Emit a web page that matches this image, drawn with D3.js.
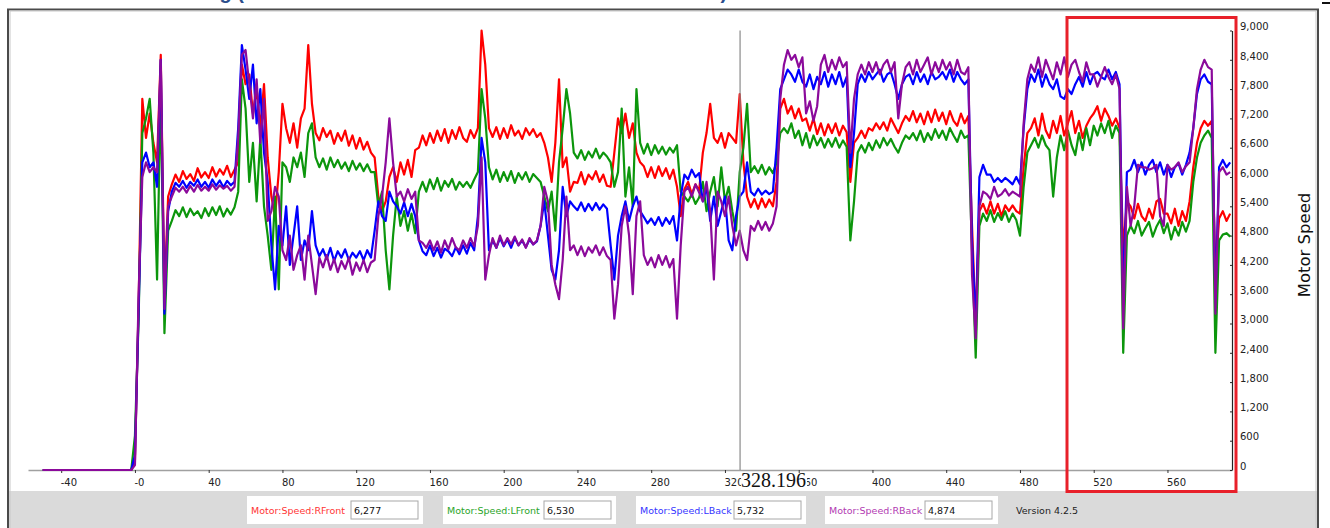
<!DOCTYPE html>
<html>
<head>
<meta charset="utf-8">
<script src="https://cdn.jsdelivr.net/npm/d3@7"></script>
<style>
  body { margin: 0; background: #fff; }
  svg { display: block; }
</style>
</head>
<body>
<div id="chart"></div>
<script>
// motor speed log, 4 motors

const width = 1330;
const height = 528;

// sample clock of the log
const tStart = -50;
const tStep = 2;

const rFront = [
  0,0,0,0,0,0,0,0,0,0,0,0,0,0,0,0,0,0,0,0,0,0,0,0,0,
  200,3400,7600,6800,7300,6700,6300,8500,3600,5600,
  5850,6050,5900,6120,5960,6060,5920,6180,5990,6100,
  5980,6200,6010,6160,6050,6230,6000,6150,6300,8300,
  7900,8100,7300,7800,7000,7900,6400,5600,5200,6100,
  7500,7000,6700,7100,6600,7200,7400,8700,7500,6900,
  6750,7000,6820,6950,6680,6900,6740,6950,6640,6850,
  6580,6800,6560,6720,6500,6400,5600,5300,5500,6000,
  6200,5900,6300,6050,6350,6000,6550,6600,6850,6650,
  6900,6700,6950,6740,6980,6700,6960,6780,7020,6800,
  6720,6960,6800,7000,9000,8300,7000,6820,7020,6780,
  7000,6800,7060,6850,6950,6780,7000,6860,6980,6820,
  6900,6700,6400,5900,6700,8000,6200,6400,5700,5900,
  5880,6100,5850,6050,5950,6120,5900,6050,5820,5800,
  6500,7200,6900,7300,6800,7100,6500,6300,6220,6000,
  6200,5980,6220,6020,6180,5960,6150,5800,5200,5750,
  5900,5650,5850,5720,6500,6900,7500,6800,6700,6900,
  6600,6900,6800,6700,7700,6300,5600,5380,5550,5350,
  5560,5380,5540,5400,5900,7400,7600,7300,7450,7200,
  7400,7150,7200,6950,7200,6880,7100,6850,7080,6900,
  7100,6850,7050,6920,5900,6700,6800,6950,6800,7000,
  6950,7100,6980,7120,6950,7200,7050,6900,7100,7250,
  7150,7350,7120,7300,7080,7340,7120,7380,7150,7320,
  7080,7350,7150,7050,7300,7100,7250,5000,3000,5300,
  5450,5250,5500,5250,5450,5200,5420,5300,5420,5300,
  5250,6200,6900,7000,7200,6850,7300,6950,6800,7150,
  6900,7250,6850,7100,7350,6900,7150,6800,7050,7200,
  7300,7450,7150,7400,7250,7050,7200,7000,4500,5500,
  5400,5150,5450,5200,5100,5350,5150,5500,5550,5250,
  5250,5050,5350,5000,5300,5100,5500,6200,6700,7000,
  7150,7050,7150,4000,5150,5300,5100,5250
];

const lFront = [
  0,0,0,0,0,0,0,0,0,0,0,0,0,0,0,0,0,0,0,0,0,0,0,0,0,
  700,3100,6900,7200,7600,6500,3900,7800,2800,4900,
  5100,5320,5200,5380,5180,5350,5220,5300,5160,5360,
  5200,5380,5220,5400,5190,5350,5230,5380,5700,8000,
  7400,5900,6700,5500,6800,5400,4800,4100,5600,3700,
  6300,6200,5900,6400,6200,6500,6000,6900,7100,6400,
  6200,6380,6150,6400,6200,6350,6170,6300,6120,6330,
  6150,6280,6120,6260,6100,6100,5400,5700,4500,3700,
  4800,5600,5000,5300,4900,5250,4850,5700,5900,5700,
  5950,5750,5980,5720,5920,5800,5960,5740,5900,5800,
  5900,5780,5950,6100,7800,7200,6200,5950,6150,5900,
  6100,5920,6120,5880,6080,5950,6100,5900,6060,5980,
  5900,5600,5300,5700,4900,6300,7000,7800,7300,6500,
  6380,6550,6350,6520,6400,6580,6380,6500,6420,6300,
  5800,6100,7400,5600,6200,5400,7800,6700,6480,6680,
  6450,6650,6480,6620,6460,6600,6500,6650,5700,5600,
  5500,5650,5450,5580,5900,5300,5700,6000,5400,6200,
  5500,5800,5300,4900,6100,6600,7500,6100,6220,6080,
  6250,6050,6200,6080,6300,6900,7000,6900,7100,6800,
  6950,6650,6900,6600,6850,6650,6800,6600,6780,6620,
  6800,6600,6750,6620,4700,5500,6500,6650,6500,6700,
  6550,6750,6600,6800,6650,6780,6620,6500,6700,6850,
  6780,6900,6750,6950,6720,6900,6760,6980,6800,6950,
  6760,7000,6850,6720,6950,6800,6850,4500,2300,5000,
  5250,5100,5320,5080,5260,5120,5300,5080,5250,5120,
  4800,5800,6500,6650,6800,6600,6850,6650,6550,5600,
  6400,6850,6550,6950,6650,6450,6900,6550,7000,6650,
  7050,6850,7100,6900,7150,6800,7050,6900,2400,4800,
  5000,4850,5100,4800,4950,5080,4780,4980,5120,4850,
  5050,4720,4980,4800,5080,4880,5100,5900,6400,6700,
  6850,6950,6800,2400,4700,4820,4850,4780
];

const lBack = [
  0,0,0,0,0,0,0,0,0,0,0,0,0,0,0,0,0,0,0,0,0,0,0,0,0,
  300,3300,6300,6500,6200,6300,5800,8400,3200,5300,
  5700,5880,5800,5920,5780,5900,5820,5950,5800,5900,
  5780,5950,5820,5930,5790,5920,5830,5900,7000,8700,
  8200,7600,8300,7100,7800,6500,5900,4600,3700,5000,
  4600,5400,4200,4800,5400,4300,4700,4500,5300,4600,
  4380,4520,4320,4550,4280,4480,4350,4520,4300,4450,
  4350,4480,4300,4500,4350,4900,5500,5200,5100,5700,
  5500,5400,5250,5480,5200,5450,5200,4700,4480,4400,
  4600,4380,4550,4350,4530,4480,4380,4560,4420,4600,
  4430,4650,4500,5200,6800,6300,4500,4700,4550,4750,
  4580,4720,4550,4750,4600,4700,4560,4720,4620,4680,
  5000,5500,4800,4100,3900,4500,5800,5200,5500,5400,
  5320,5480,5300,5450,5320,5470,5330,5440,5350,4600,
  3900,4800,5200,5500,5100,5400,5600,5300,5180,5050,
  5150,5020,5180,5000,5160,5040,5200,4700,5600,6050,
  5950,6150,6000,6080,5500,5800,5100,5600,5000,5300,
  5600,4700,4500,5200,5600,5700,6300,5700,5620,5760,
  5640,5720,5650,5700,6600,7800,8000,8200,8100,7950,
  8200,7950,7850,8100,7800,8050,7900,8150,7850,8100,
  7900,8150,7850,8050,6200,6900,7900,8100,7950,8150,
  8000,8100,8200,7950,8100,8150,7900,7600,7900,8050,
  8100,7900,8150,7950,8100,7900,8150,8000,8050,8150,
  8000,8200,7950,8150,8000,7900,8000,4700,2900,6000,
  6250,6050,6050,5900,5980,5900,5980,5920,5850,6000,
  5850,7000,7800,8100,7950,8200,7850,8100,7900,7800,
  8000,7650,7600,7800,7700,7900,8050,7850,8150,7900,
  8100,8150,8050,8000,8200,8000,8150,7900,3500,6100,
  6150,6350,6100,6300,6050,6250,6350,6100,6300,6050,
  6250,6000,6200,6280,6050,6250,6500,7000,7700,8000,
  8100,7950,7900,3500,6200,6350,6200,6300
];

const rBack = [
  0,0,0,0,0,0,0,0,0,0,0,0,0,0,0,0,0,0,0,0,0,0,0,0,0,
  100,3600,6000,6300,6100,6200,6100,8400,3300,5400,
  5600,5780,5700,5800,5680,5820,5700,5840,5720,5800,
  5720,5850,5740,5830,5760,5820,5720,5800,6800,8500,
  8600,7900,7200,8000,6700,7600,5100,5300,5800,5600,
  4500,4300,4800,4100,4400,4600,3900,4800,4200,3600,
  4350,4150,4400,4100,4320,4050,4280,4120,4350,4000,
  4250,4080,4300,4050,4250,4300,5200,5600,6300,7200,
  6300,5600,5700,5500,5750,5550,5700,4700,4650,4550,
  4700,4500,4680,4450,4700,4520,4750,4560,4500,4700,
  4550,4750,4580,5000,6400,3900,4400,4750,4550,4800,
  4600,4750,4620,4780,4600,4720,4550,4750,4620,4700,
  5000,5800,5500,4200,3800,3500,4300,5600,4500,4600,
  4400,4580,4380,4560,4450,4600,4400,4560,4380,4300,
  3100,3800,5000,5400,4800,3600,5200,5500,4400,4200,
  4350,4150,4400,4200,4380,4150,4320,3100,4600,5700,
  5800,5600,5850,5680,5500,5900,5300,3900,5700,5500,
  5200,5600,5000,4600,4900,4500,4300,5000,4900,5100,
  4920,5080,4900,5050,5400,7600,8300,8600,8400,8500,
  8250,8450,7300,7550,7150,7450,8300,8500,8150,8400,
  8200,8450,8250,8350,6500,7600,8100,8300,8100,8350,
  8150,8350,8100,8300,8400,8150,8350,7200,7900,8250,
  8350,8100,8400,8150,8300,8450,8100,8350,8150,8400,
  8200,8350,8100,8400,8150,8100,8250,4000,2700,5400,
  5700,5650,5550,5800,5600,5650,5750,5620,5700,5650,
  5600,7100,8000,8300,8150,8450,8050,8400,8200,8000,
  8350,8100,8450,8050,8300,8400,8150,7950,8350,8100,
  8100,7850,8050,8250,8050,7900,8100,7800,2900,5800,
  5000,5400,6250,6200,6200,6150,6180,6250,5200,5000,
  6250,6150,6200,6300,6100,6220,6300,7000,7800,8200,
  8400,8250,8200,3200,6100,6200,6050,6100
];

const seriesNames = ["Motor:Speed:RFront", "Motor:Speed:LFront", "Motor:Speed:LBack", "Motor:Speed:RBack"];
const seriesValues = [rFront, lFront, lBack, rBack];
const readouts = ["6,277", "6,530", "5,732", "4,874"];

const xTicks = [-40, 0, 40, 80, 120, 160, 200, 240, 280, 320, 360, 400, 440, 480, 520, 560];
const xTickLabels = ["-40", "-0", "40", "80", "120", "160", "200", "240", "280", "320", "360", "400", "440", "480", "520", "560"];
const yTicks = [0, 600, 1200, 1800, 2400, 3000, 3600, 4200, 4800, 5400, 6000, 6600, 7200, 7800, 8400, 9000];

const cursorT = 328.196;
const cursorLabel = "328.196";
const yTitle = "Motor Speed";
const titleText = "Motor Data Log (All Four Drive Motors RFront LFront LBack RBack)";
const versionText = "Version 4.2.5";

// styles
const lineColors = ["#ff0000", "#0c960c", "#0000ff", "#8b0a9b"];
const labelColors = ["#ff3535", "#2aa52a", "#3535ff", "#b23ab2"];
const uiFont = "DejaVu Sans, Verdana, sans-serif";

const svg = d3.select("#chart")
  .append("svg")
  .attr("width", width)
  .attr("height", height);

svg.append("rect")
  .attr("width", width)
  .attr("height", height)
  .attr("fill", "#fff");

// title, cut off by the top of the window
svg.append("text")
  .attr("x", 85)
  .attr("y", -1)
  .attr("font-family", "Liberation Sans, Arial, sans-serif")
  .attr("font-weight", "bold")
  .attr("font-size", 20)
  .attr("fill", "#2b4e8c")
  .text(titleText);

svg.append("line")
  .attr("x1", 1322).attr("x2", 1330)
  .attr("y1", 3).attr("y2", 3)
  .attr("stroke", "#111").attr("stroke-width", 2);

// bottom status panel
svg.append("rect")
  .attr("x", 9).attr("y", 491)
  .attr("width", 1308).attr("height", 40)
  .attr("fill", "#dadada");

// outer frame
svg.append("rect")
  .attr("x", 8).attr("y", 9.5)
  .attr("width", 1310).attr("height", 530)
  .attr("fill", "none")
  .attr("stroke", "#4a4a4a")
  .attr("stroke-width", 2);
svg.append("rect")
  .attr("x", 10).attr("y", 11)
  .attr("width", 1306).attr("height", 530)
  .attr("fill", "none")
  .attr("stroke", "#c8c8c8")
  .attr("stroke-width", 1);

const x = d3.scaleLinear().domain([-58, 595]).range([28, 1232]);
const y = d3.scaleLinear().domain([0, 9000]).range([470, 30.5]);

// x axis
const xAxis = d3.axisBottom(x)
  .tickValues(xTicks)
  .tickFormat((d, i) => xTickLabels[i])
  .tickSize(3)
  .tickSizeOuter(0);

const gx = svg.append("g")
  .attr("transform", "translate(0,470)")
  .call(xAxis);
gx.select(".domain").attr("stroke", "#a0a0a0").attr("stroke-width", 1.5);
gx.selectAll(".tick line").attr("stroke", "#333");
gx.selectAll(".tick text")
  .attr("text-anchor", "start")
  .attr("x", -1)
  .attr("y", 9)
  .attr("dy", "0.71em")
  .attr("font-family", uiFont)
  .attr("font-size", 10)
  .attr("fill", "#222");

// y axis on the right
const yAxis = d3.axisRight(y)
  .tickValues(yTicks)
  .tickFormat(d3.format(","))
  .tickSize(2)
  .tickSizeOuter(0);

const gy = svg.append("g")
  .attr("transform", "translate(1232,0)")
  .call(yAxis);
gy.select(".domain").attr("stroke", "#222").attr("stroke-width", 1.2);
gy.selectAll(".tick line").attr("stroke", "#222").attr("x2", -2);
gy.selectAll(".tick text")
  .attr("x", 8)
  .attr("dy", "-0.08em")
  .attr("font-family", uiFont)
  .attr("font-size", 10)
  .attr("fill", "#222");

svg.append("text")
  .attr("transform", "translate(1310,245) rotate(-90)")
  .attr("text-anchor", "middle")
  .attr("font-family", uiFont)
  .attr("font-size", 16.5)
  .attr("fill", "#111")
  .text(yTitle);

// series lines
const line = d3.line()
  .x((d, i) => x(tStart + i * tStep))
  .y(d => y(d));

svg.append("g")
  .selectAll("path")
  .data(seriesValues)
  .join("path")
  .attr("d", d => line(d))
  .attr("fill", "none")
  .attr("stroke", (d, i) => lineColors[i])
  .attr("stroke-width", 2.2)
  .attr("stroke-linejoin", "round");

// cursor
svg.append("line")
  .attr("x1", x(cursorT)).attr("x2", x(cursorT))
  .attr("y1", y(9000)).attr("y2", 470)
  .attr("stroke", "#8a8a8a")
  .attr("stroke-width", 1.2);

svg.append("rect")
  .attr("x", x(cursorT) + 1).attr("y", 473)
  .attr("width", 66).attr("height", 17)
  .attr("fill", "#fff");

svg.append("text")
  .attr("x", x(cursorT) + 1)
  .attr("y", 487)
  .attr("font-family", "Liberation Serif, Times New Roman, serif")
  .attr("font-size", 20)
  .attr("fill", "#111")
  .text(cursorLabel);

// readout boxes
const boxes = [
  {x: 247, w: 176, inputX: 351},
  {x: 443, w: 173, inputX: 544},
  {x: 636, w: 170, inputX: 734},
  {x: 825, w: 173, inputX: 925}
];

const legend = svg.append("g")
  .selectAll("g")
  .data(seriesNames)
  .join("g");

legend.append("rect")
  .attr("x", (d, i) => boxes[i].x)
  .attr("y", 496)
  .attr("width", (d, i) => boxes[i].w)
  .attr("height", 28)
  .attr("fill", "#fff");

legend.append("text")
  .attr("x", (d, i) => boxes[i].x + 4)
  .attr("y", 514)
  .attr("font-family", uiFont)
  .attr("font-size", 9.5)
  .attr("fill", (d, i) => labelColors[i])
  .text(d => d);

legend.append("rect")
  .attr("x", (d, i) => boxes[i].inputX)
  .attr("y", 501)
  .attr("width", 67)
  .attr("height", 18)
  .attr("fill", "#fff")
  .attr("stroke", "#a8a8a8");

legend.append("text")
  .attr("x", (d, i) => boxes[i].inputX + 3)
  .attr("y", 514)
  .attr("font-family", uiFont)
  .attr("font-size", 9.5)
  .attr("fill", "#111")
  .text((d, i) => readouts[i]);

svg.append("text")
  .attr("x", 1016)
  .attr("y", 514)
  .attr("font-family", uiFont)
  .attr("font-size", 9.5)
  .attr("fill", "#222")
  .text(versionText);

// highlight box drawn over the screenshot
svg.append("rect")
  .attr("x", 1067).attr("y", 17.5)
  .attr("width", 169).attr("height", 474)
  .attr("fill", "none")
  .attr("stroke", "#e8202a")
  .attr("stroke-width", 3);
</script>
</body>
</html>
